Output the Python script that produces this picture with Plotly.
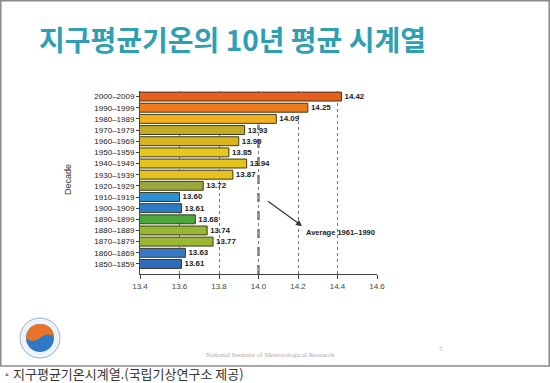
import plotly.graph_objects as go

# ---- data (bottom to top) ----
decades = ["1850–1859", "1860–1869", "1870–1879", "1880–1889", "1890–1899",
           "1900–1909", "1910–1919", "1920–1929", "1930–1939", "1940–1949",
           "1950–1959", "1960–1969", "1970–1979", "1980–1989", "1990–1999",
           "2000–2009"]
temps = [13.61, 13.63, 13.77, 13.74, 13.68, 13.61, 13.60, 13.72,
         13.87, 13.94, 13.85, 13.90, 13.93, 14.09, 14.25, 14.42]
bar_colors = ["#2d6cbc", "#3a78c4", "#9ab830", "#98b630", "#4aa83c",
              "#2c7cc8", "#2f90d2", "#9aa63a", "#e6c21e", "#e6c41e",
              "#e8c81c", "#d6b51e", "#c3ac2c", "#f2b020", "#ee7a1e",
              "#e8601c"]
x_ticks = [13.4, 13.6, 13.8, 14.0, 14.2, 14.4, 14.6]
avg_value = 14.0
avg_label = "Average 1961–1990"

W, H = 550, 383
L, R = 140, 377      # plot x pixels
T, B = 91, 274       # plot y pixels

def px(x):
    return (x - L) / (R - L)

def py(y):
    return (B - y) / (B - T)

fig = go.Figure()
fig.add_trace(go.Bar(
    y=decades, x=temps, orientation="h",
    marker=dict(color=bar_colors, line=dict(color="#3a3a20", width=1)),
    texttemplate="<b>%{x:.2f}</b>", textposition="outside",
    textfont=dict(size=8, color="#222", family="Liberation Sans"),
    cliponaxis=False, hoverinfo="x+y",
))

fig.update_layout(
    width=W, height=H,
    margin=dict(l=L, r=W - R, t=T, b=H - B),
    paper_bgcolor="white", plot_bgcolor="white",
    showlegend=False, bargap=0.2,
    font=dict(family="Liberation Sans", color="#222"),
    xaxis=dict(range=[13.4, 14.6], tickvals=x_ticks,
               ticktext=[f"{v:.1f}" for v in x_ticks],
               showgrid=True, gridcolor="#777", griddash="dot", gridwidth=1,
               showline=True, linecolor="#444", linewidth=1,
               ticks="outside", ticklen=4, tickcolor="#444",
               tickfont=dict(size=8, color="#444"), zeroline=False),
    yaxis=dict(range=[-0.9, 15.5], showline=True, linecolor="#444", linewidth=1,
               ticks="outside", ticklen=3, tickcolor="#444",
               tickfont=dict(size=8, color="#222")),
)

shapes = []
# average line
shapes.append(dict(type="line", xref="x", yref="y", x0=avg_value, x1=avg_value,
                   y0=-0.9, y1=12.5, line=dict(color="#9a9a9a", width=3, dash="dash"),
                   layer="below"))
# slide frame
shapes.append(dict(type="rect", xref="paper", yref="paper",
                   x0=px(0.8), x1=px(549.2), y0=py(366), y1=py(0.8),
                   line=dict(color="#8a8a8a", width=1.5)))
# logo
shapes.append(dict(type="circle", xref="paper", yref="paper",
                   x0=px(20), x1=px(60), y0=py(358), y1=py(318),
                   fillcolor="#eef3fa", line=dict(color="#9cb2d0", width=1)))
shapes.append(dict(type="circle", xref="paper", yref="paper",
                   x0=px(26), x1=px(54), y0=py(352), y1=py(324),
                   fillcolor="#2f78c4", line=dict(width=0)))
shapes.append(dict(type="path", xref="paper", yref="paper",
                   path=f"M {px(26)},{py(338)} Q {px(28)},{py(324)} {px(40)},{py(324)} "
                        f"Q {px(52)},{py(324)} {px(54)},{py(336)} "
                        f"Q {px(46)},{py(332)} {px(40)},{py(338)} "
                        f"Q {px(32)},{py(344)} {px(26)},{py(338)} Z",
                   fillcolor="#e8742a", line=dict(width=0)))
fig.update_layout(shapes=shapes)

ann = []
# title
ann.append(dict(xref="paper", yref="paper", x=px(232), y=py(39),
                text="<b>지구평균기온의 10년 평균 시계열</b>", showarrow=False,
                xanchor="center", yanchor="middle",
                font=dict(size=28, color="#2f9fb2", family="Noto Sans CJK KR")))
# y-axis title
ann.append(dict(xref="paper", yref="paper", x=px(68), y=py(180), text="Decade",
                textangle=-90, showarrow=False, xanchor="center", yanchor="middle",
                font=dict(size=9, color="#333")))
# arrow
ann.append(dict(xref="paper", yref="paper", x=px(302), y=py(226), ax=-37, ay=-27,
                text=" ", showarrow=True, arrowhead=2, arrowsize=1, arrowwidth=1.2,
                arrowcolor="#333", standoff=0, startstandoff=0))
ann.append(dict(xref="paper", yref="paper", x=px(304), y=py(232), text=f"<b>{avg_label}</b>",
                showarrow=False, xanchor="left", yanchor="middle",
                font=dict(size=7.5, color="#222")))
# footer
ann.append(dict(xref="paper", yref="paper", x=px(270), y=py(355),
                text="National Institute of Meteorological Research", showarrow=False,
                xanchor="center", yanchor="middle",
                font=dict(size=7, color="#aaaaaa", family="Liberation Serif")))
ann.append(dict(xref="paper", yref="paper", x=px(445), y=py(355), text="5",
                showarrow=False, font=dict(size=7, color="#aaaaaa", family="Liberation Serif")))
# caption
ann.append(dict(xref="paper", yref="paper", x=px(2), y=py(374), text="▲",
                showarrow=False, xanchor="left", yanchor="middle",
                font=dict(size=6, color="#e05a3a")))
ann.append(dict(xref="paper", yref="paper", x=px(11), y=py(373),
                text="지구평균기온시계열.(국립기상연구소 제공)",
                showarrow=False, xanchor="left", yanchor="middle",
                font=dict(size=13, color="#333", family="Noto Sans CJK KR")))
fig.update_layout(annotations=ann)

fig.write_html("out.html", config={"displayModeBar": False},
               post_script="document.body.style.margin='0';document.body.style.overflow='hidden';")
